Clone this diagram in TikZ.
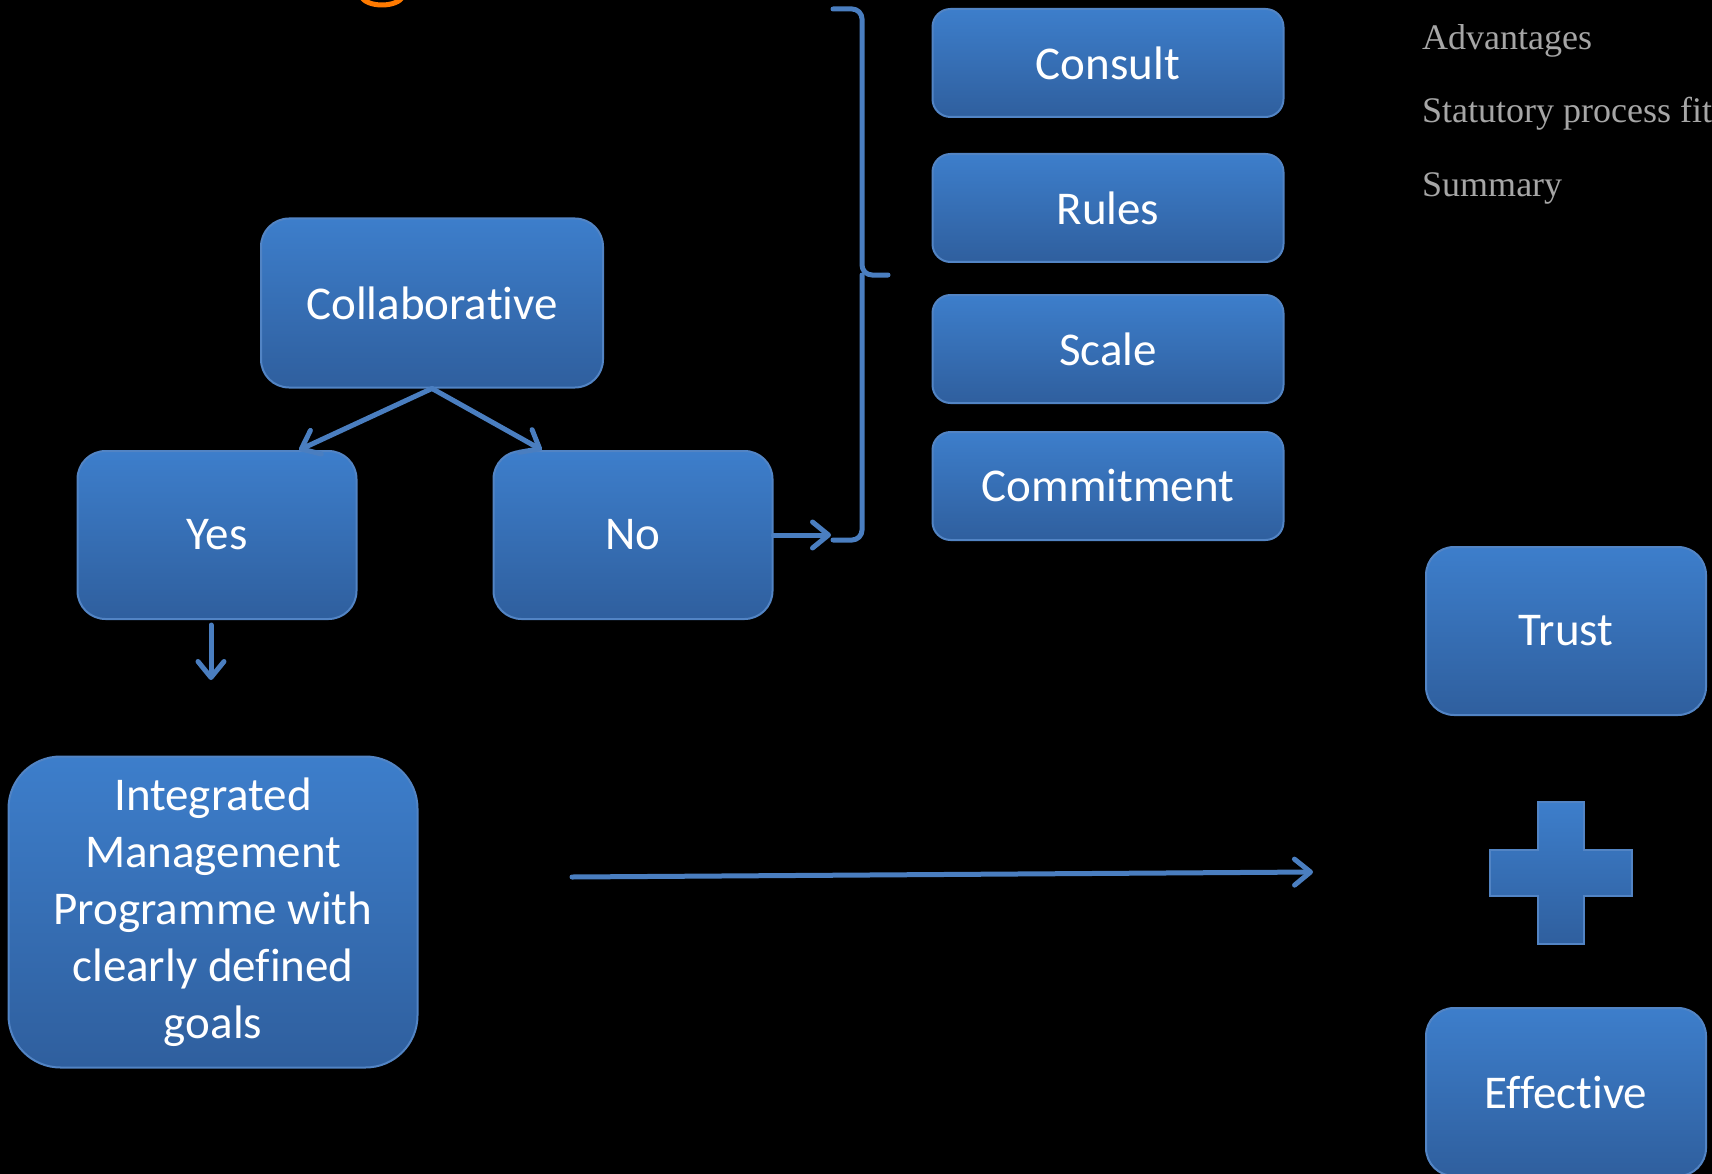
\documentclass[tikz,border=0pt]{standalone}
\usepackage{fontspec}
\setmainfont{Carlito}[Ligatures=NoCommon]
\newfontfamily\menufont{Liberation Serif}
\usepackage{xcolor}
\usepackage{tikz}
\usetikzlibrary{arrows.meta}
\definecolor{boxtop}{RGB}{61,126,203}
\definecolor{boxbottom}{RGB}{47,95,158}
\definecolor{boxedge}{RGB}{82,132,196}
\definecolor{linkblue}{RGB}{74,126,192}
\definecolor{menugray}{RGB}{166,166,166}
\definecolor{titleorange}{RGB}{255,122,0}
\tikzstyle{bluebox} = [draw=boxedge, line width=2pt, top color=boxtop, bottom color=boxbottom,
rectangle, rounded corners=28pt, text=white, font=\fontsize{47}{57}\selectfont, align=center, inner sep=0pt]
\tikzstyle{listbox} = [bluebox, minimum width=351pt, minimum height=108pt, rounded corners=18pt]
\tikzstyle{menuitem} = [text=menugray, font=\menufont\fontsize{36}{42}\selectfont, anchor=base west, inner sep=0pt]
\tikzstyle{link} = [draw=linkblue, line width=5pt, line cap=round, -{Straight Barb[length=16pt,width=26pt,round]}]
\tikzstyle{bracket} = [draw=linkblue, line width=5pt, line cap=round, rounded corners=10pt]

\begin{document}
\begin{tikzpicture}[x=1pt, y=-1pt]
        \useasboundingbox (0,0) rectangle (1712,1174);
        \fill[black] (0,0) rectangle (1712,1174);
        \clip (0,0) rectangle (1712,1174);
        % bottom of the cut-off title
        \draw[titleorange, line width=5pt] (361,-4) .. controls (366,8) and (398,8) .. (403,-4);
        % options
        \node[listbox] (consult) at (1108,63) {Consult};
        \node[listbox] (rules) at (1108,208) {Rules};
        \node[listbox] (scale) at (1108,349) {Scale};
        \node[listbox] (commit) at (1108,486) {Commitment};
        % decision
        \node[bluebox, minimum width=342pt, minimum height=169pt] (collab) at (432,303) {Collaborative};
        \node[bluebox, minimum width=279pt, minimum height=168pt] (yes) at (217,535) {Yes};
        \node[bluebox, minimum width=279pt, minimum height=168pt] (no) at (633,535) {No};
        \node[bluebox, minimum width=409pt, minimum height=311pt, rounded corners=52pt] (goals) at (213,912)
            {Integrated\\Management\\Programme with\\clearly defined\\goals};
        \node[bluebox, minimum width=280pt, minimum height=168pt] (trust) at (1566,631) {Trust};
        \node[bluebox, minimum width=280pt, minimum height=168pt] (effective) at (1566,1092) {Effective};
        \shade[draw=boxedge, line width=1.5pt, top color=boxtop, bottom color=boxbottom]
            (1538,802) -- (1584,802) -- (1584,850) -- (1632,850) -- (1632,896) -- (1584,896)
            -- (1584,944) -- (1538,944) -- (1538,896) -- (1490,896) -- (1490,850) -- (1538,850) -- cycle;
        % menu on the right
        \node[menuitem] (adv) at (1422,50) {Advantages};
        \node[menuitem] (fit) at (1422,123) {Statutory process fit};
        \node[menuitem] (summary) at (1422,197) {Summary};
        % connectors
        \coordinate (bracefoot) at (833,540);
        \coordinate (braceend) at (831,535);
        \coordinate (yesend) at (211,680);
        \coordinate (longstart) at (572,877);
        \coordinate (longend) at (1313,872);
        \draw[bracket] (833,9) -| (862,275) -- (888,275);
        \draw[bracket] (862,275) |- (bracefoot);
        \draw[link] (collab.south) -- (yes.46);
        \draw[link] (collab.south) -- (no.137);
        \draw[link] (no.east) -- (braceend);
        \draw[link] ([xshift=-6pt, yshift=-5pt]yes.south) -- (yesend);
        \draw[link] (longstart) -- (longend);
    \end{tikzpicture}
\end{document}
